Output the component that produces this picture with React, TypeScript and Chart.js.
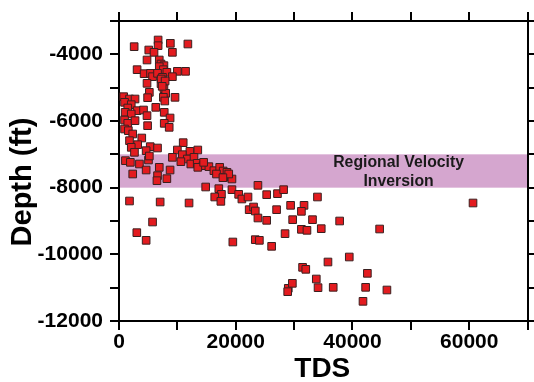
import React, { useEffect, useRef } from "react";
import { Chart, registerables } from "chart.js";

Chart.register(...registerables);

const tdsValues: number[] = [
  2600, 6700, 6700, 8800, 11800, 5100, 6000, 9150, 4800, 6900, 7200, 7700, 6900, 7600, 3100, 4300, 5400, 5750, 6600, 8200,
  10000, 11400, 9150, 7450, 4800, 7200, 7700, 8000, 7600, 9600, 5200, 4900, 7850, 7230, 7900, 7400,
  800, 1800, 2750, 950, 2100, 1500, 3100, 4200, 1050, 2100, 4800, 6300, 7750, 8750, 7750, 8600, 950, 1500, 2750, 4900,
  950, 1600, 2350, 3900, 1800, 3200, 2100, 2650, 5350, 6600, 4650, 5050, 3500, 1100, 1950, 2350, 4650, 6600, 6500, 6900,
  8200, 8750, 5200,
  11000, 10000, 12150, 13500, 9150, 10850, 11700, 12850, 12300, 13400, 14400, 15400, 16250, 17250, 17850, 18500, 16700,
  17950, 19350, 18800, 10600, 13500, 14500, 17800,
  14850, 17100, 17550, 16400, 17450, 19350, 20500, 21050, 22100, 23800, 25300, 27150, 28200, 22300, 23050, 23350, 23800,
  25300, 27000, 29400, 29750, 28450, 26150, 23350, 24050, 19500, 1800, 7050, 12000, 5750, 3050, 4650,
  31700, 31250, 34000, 33150, 37800, 31250, 32200, 34650, 44650, 60650, 31450, 32000, 35800, 39450, 33800, 42550,
  29000, 28900, 29700, 34100, 36700, 42250, 45900, 41800,
];

const depthValues: number[] = [
  -3770, -3570, -3740, -3670, -3690, -3870, -3940, -3940, -4170, -4170, -4290, -4340, -4370, -4460, -4460, -4580, -4570, -4670, -4570, -4540,
  -4510, -4510, -4670, -4690, -4870, -4880, -5030, -5170, -5290, -5290, -5140, -5300, -5400, -4740, -4800, -4960,
  -5270, -5340, -5340, -5440, -5510, -5610, -5690, -5670, -5740, -5790, -5840, -5590, -5740, -5910, -6070, -6190, -5970, -6070, -5990, -6140,
  -6240, -6290, -6390, -6510, -6590, -6710, -6790, -6940, -6770, -6810, -6890, -7170, -7290, -7190, -7240, -7590, -7470, -7640, -7790, -7390,
  -7730, -7470, -7050,
  -6650, -6870, -6910, -6870, -7090, -7010, -7140, -7090, -7290, -7270, -7340, -7370, -7490, -7390, -7500, -7540, -7590,
  -7690, -7740, -7590, -7220, -7390, -7240, -7700,
  -7980, -8030, -8200, -8280, -8410, -8060, -8200, -8340, -8280, -7930, -8210, -8180, -8060, -8660, -8580, -8700, -8910,
  -8980, -8660, -8530, -8960, -9380, -9760, -9560, -9580, -9630, -8400, -8430, -8460, -9030, -9350, -9580,
  -8530, -8710, -8280, -8960, -9000, -9250, -9280, -9230, -9240, -8460, -10390, -10450, -10230, -10080, -10740, -10570,
  -11020, -11120, -10870, -11000, -10990, -10990, -11070, -11410,
];

const xMin = 0;
const xMax = 70000;
const yMin = -12000;
const yMax = -3000;
const bandTop = -7000;
const bandBottom = -8000;
const bandLabel = ["Regional Velocity", "Inversion"];
const bandLabelX = 47900;
const xTitle = "TDS";
const yTitle = "Depth (ft)";

const FONT = '"Liberation Sans", Arial, Helvetica, sans-serif';

const overlayPlugin = {
  id: "overlay",
  beforeDraw(chart: any) {
    const { ctx, chartArea } = chart;
    const y = chart.scales.y;
    const top = y.getPixelForValue(bandTop);
    const bottom = y.getPixelForValue(bandBottom);
    ctx.save();
    ctx.fillStyle = "#d5a6cf";
    ctx.fillRect(chartArea.left, top, chartArea.right - chartArea.left, bottom - top);
    ctx.restore();
  },
  afterDraw(chart: any) {
    const { ctx, chartArea } = chart;
    const x = chart.scales.x;
    const y = chart.scales.y;
    const top = y.getPixelForValue(bandTop);
    const bottom = y.getPixelForValue(bandBottom);
    const cx = x.getPixelForValue(bandLabelX);
    ctx.save();
    ctx.fillStyle = "#1a1a1a";
    ctx.font = `bold 15.8px ${FONT}`;
    ctx.textAlign = "center";
    ctx.textBaseline = "middle";
    const mid = (top + bottom) / 2;
    ctx.fillText(bandLabel[0], cx, mid - 8.5);
    ctx.fillText(bandLabel[1], cx, mid + 11);
    // axis titles
    ctx.fillStyle = "#000";
    ctx.font = `bold 28px ${FONT}`;
    ctx.fillText(xTitle, (chartArea.left + chartArea.right) / 2 - 1, 369);
    ctx.translate(23, 182);
    ctx.rotate(-Math.PI / 2);
    ctx.font = `bold 29px ${FONT}`;
    ctx.fillText(yTitle, 0, 0);
    ctx.restore();
  },
};

export default function App() {
  const canvasRef = useRef<HTMLCanvasElement | null>(null);

  useEffect(() => {
    if (!canvasRef.current) return;
    const points = tdsValues.map((v, i) => ({ x: v, y: depthValues[i] }));
    const grid = {
      display: true,
      drawOnChartArea: false,
      drawTicks: true,
      tickLength: 9,
      color: "#000",
      lineWidth: 2,
    };
    const border = { display: true, color: "#000", width: 2 };
    const tickFont = { family: FONT, size: 21, weight: "bold" as const };
    const chart = new Chart(canvasRef.current, {
      type: "scatter",
      data: {
        datasets: [
          {
            data: points,
            pointStyle: "rect",
            pointRadius: 5.4,
            pointHoverRadius: 5.4,
            backgroundColor: "#e31b1f",
            borderColor: "#3a2020",
            borderWidth: 1,
            xAxisID: "x",
            yAxisID: "y",
          },
        ],
      },
      options: {
        responsive: false,
        animation: false,
        events: [],
        layout: { padding: 0 },
        plugins: {
          legend: { display: false },
          tooltip: { enabled: false },
          title: { display: false },
        },
        scales: {
          x: {
            type: "linear",
            position: "bottom",
            min: xMin,
            max: xMax,
            grid,
            border,
            ticks: {
              stepSize: 10000,
              autoSkip: false,
              maxRotation: 0,
              padding: 0,
              color: "#000",
              font: tickFont,
              callback: (v: any) => (Number(v) % 20000 === 0 ? String(v) : ""),
            },
            afterFit: (s: any) => {
              s.height = 61;
            },
          },
          x2: {
            type: "linear",
            position: "top",
            min: xMin,
            max: xMax,
            grid,
            border,
            ticks: { stepSize: 10000, autoSkip: false, display: false },
            afterFit: (s: any) => {
              s.height = 21;
            },
          },
          y: {
            type: "linear",
            position: "left",
            min: yMin,
            max: yMax,
            grid,
            border,
            ticks: {
              stepSize: 1000,
              autoSkip: false,
              padding: 7,
              color: "#000",
              font: tickFont,
              callback: (v: any) => (Number(v) % 2000 === 0 ? String(v) : ""),
            },
            afterFit: (s: any) => {
              s.width = 119;
            },
          },
          y2: {
            type: "linear",
            position: "right",
            min: yMin,
            max: yMax,
            grid,
            border,
            ticks: { stepSize: 1000, autoSkip: false, display: false },
            afterFit: (s: any) => {
              s.width = 3;
            },
          },
        },
      },
      plugins: [overlayPlugin],
    });
    return () => chart.destroy();
  }, []);

  return (
    <div style={{ position: "absolute", left: 0, top: 0, width: 534, height: 382, background: "#fff" }}>
      <canvas ref={canvasRef} width={534} height={382} style={{ display: "block" }} />
    </div>
  );
}
